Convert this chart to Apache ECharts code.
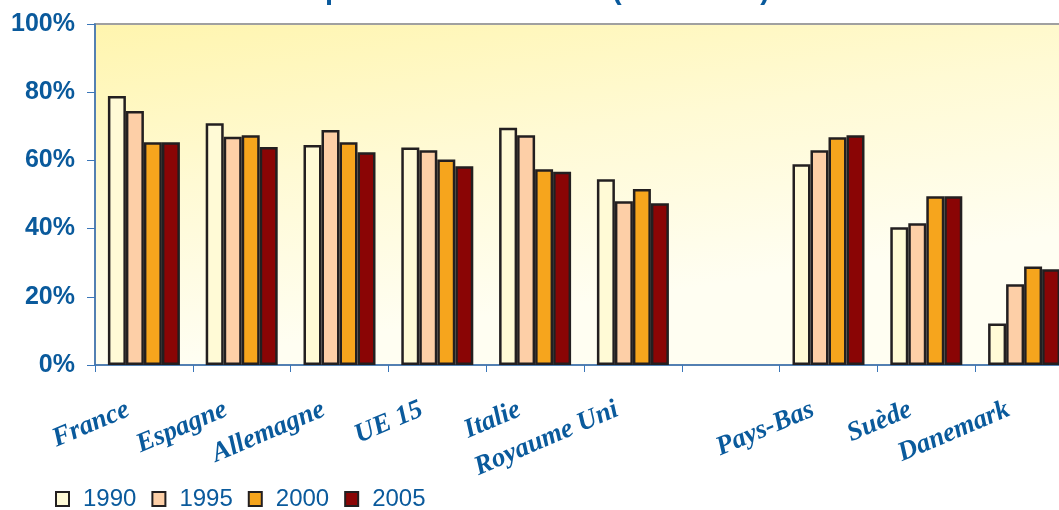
<!DOCTYPE html>
<html>
<head>
<meta charset="utf-8">
<title>Prestations sociales 1990-2005</title>
<script src="https://cdn.jsdelivr.net/npm/echarts@6/dist/echarts.min.js"></script>
<style>
 html, body { margin: 0; padding: 0; background: #fff; }
 #chart { width: 1059px; height: 510px; }
</style>
</head>
<body>
<div id="chart"></div>
<script>
/** données **/
var categories = ['France', 'Espagne', 'Allemagne', 'UE 15', 'Italie', 'Royaume Uni', '', 'Pays-Bas', 'Suède', 'Danemark'];
var years = ['1990', '1995', '2000', '2005'];
var v1990 = [78.9, 70.9, 64.5, 63.8, 69.6, 54.5, null, 58.9, 40.4, 12.2];
var v1995 = [74.5, 66.9, 68.9, 63.0, 67.4, 48.0, null, 63.0, 41.6, 23.7];
var v2000 = [65.3, 67.4, 65.3, 60.3, 57.4, 51.6, null, 66.8, 49.5, 28.9];
var v2005 = [65.3, 63.9, 62.4, 58.3, 56.7, 47.4, null, 67.4, 49.5, 28.1];
var yTicks = [0, 20, 40, 60, 80, 100];

var values = [v1990, v1995, v2000, v2005];
var colors = ['#fffad6', '#fdcfa7', '#f6a51d', '#8a0505'];
var blue = '#0a5a9c';

var chart = echarts.init(document.getElementById('chart'));

var series = [];
years.forEach(function(year, index) {
 series.push({
  name: year,
  type: 'bar',
  barWidth: 18,
  barGap: '0%',
  data: values[index],
  itemStyle: {
   color: colors[index],
   borderColor: '#231f20',
   borderWidth: 2.5
  }
 })
})

var option = {
 animation: false,
 title: {
  text: 'prestations sociales (1990-2005)',
  left: 325,
  top: -24,
  padding: 0,
  textStyle: {
   fontFamily: 'Liberation Sans, Arial',
   fontSize: 29,
   fontWeight: 'bold',
   color: blue
  }
 },
 legend: {
  data: years,
  left: 55,
  top: 487,
  padding: 0,
  icon: 'rect',
  itemWidth: 13,
  itemHeight: 14,
  itemGap: 15,
  textStyle: {
   fontFamily: 'Liberation Sans, Arial',
   fontSize: 24,
   color: blue,
   padding: [0, 0, 0, 9]
  }
 },
 grid: {
  left: 95,
  right: -14,
  top: 24,
  bottom: 145,
  outerBoundsMode: 'none',
  show: true,
  borderColor: '#a0a0a0',
  borderWidth: 2,
  backgroundColor: {
   type: 'linear',
   x: 0, y: 0, x2: 0.05, y2: 1,
   colorStops: [
    { offset: 0, color: '#fff5ae' },
    { offset: 0.5, color: '#fffad4' },
    { offset: 1, color: '#fffef2' }
   ]
  }
 },
 xAxis: {
  type: 'category',
  data: categories,
  axisLine: { lineStyle: { color: '#3a76b8', width: 1.5 } },
  axisTick: { show: true, length: 7, lineStyle: { color: '#3a76b8' } },
  axisLabel: {
   interval: 0,
   rotate: 23,
   margin: 37,
   padding: [0, 17, 0, 0],
   fontFamily: 'Liberation Serif, Times New Roman',
   fontStyle: 'italic',
   fontWeight: 'bold',
   fontSize: 27,
   color: blue
  }
 },
 yAxis: {
  type: 'value',
  min: yTicks[0],
  max: yTicks[yTicks.length - 1],
  interval: yTicks[1] - yTicks[0],
  splitLine: { show: false },
  axisLine: { show: true, lineStyle: { color: '#3a76b8', width: 1.5 } },
  axisTick: { show: true, length: 8, lineStyle: { color: '#3a76b8' } },
  axisLabel: {
   margin: 20,
   formatter: '{value}%',
   fontFamily: 'Liberation Sans, Arial',
   fontSize: 25,
   fontWeight: 'bold',
   color: blue
  }
 },
 series: series
}
chart.setOption(option);
</script>
</body>
</html>
